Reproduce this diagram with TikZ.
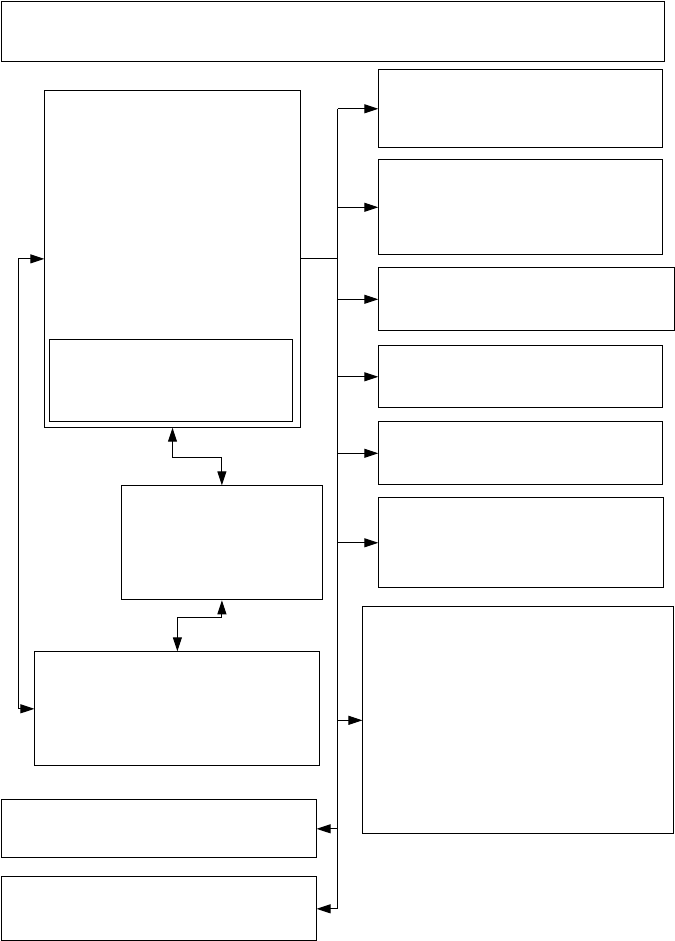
\documentclass[tikz,border=0pt]{standalone}
\usepackage{amsmath}
\usepackage{tikz}
\usetikzlibrary{arrows.meta}

\begin{document}
\begin{tikzpicture}[x=1pt,y=-1pt,line width=1pt,
  >={Triangle[length=14pt,width=9pt]},
  box/.style={draw,line width=1pt,anchor=north west,inner sep=0pt}]
\useasboundingbox (0,0) rectangle (674,941);

\node[box,minimum width=662.5pt,minimum height=60.6pt] (top) at (1.3,0.7) {};

\node[box,minimum width=255.4pt,minimum height=336.7pt] (a) at (44.3,90) {};
\node[box,minimum width=242.1pt,minimum height=81.4pt] (inner) at (49.4,339.3) {};
\node[box,minimum width=200.4pt,minimum height=114pt] (m) at (121.2,485.3) {};
\node[box,minimum width=285pt,minimum height=114pt] (b) at (34.4,651.3) {};
\node[box,minimum width=315.1pt,minimum height=58pt] (l1) at (0.5,799.3) {};
\node[box,minimum width=315.1pt,minimum height=64pt] (l2) at (0.5,876.3) {};

\node[box,minimum width=283.3pt,minimum height=78pt] (r1) at (378.3,69.3) {};
\node[box,minimum width=283.3pt,minimum height=95pt] (r2) at (378.3,159.3) {};
\node[box,minimum width=295.4pt,minimum height=63pt] (r3) at (378.3,267.3) {};
\node[box,minimum width=283.3pt,minimum height=62pt] (r4) at (378.3,345.3) {};
\node[box,minimum width=283.3pt,minimum height=63pt] (r5) at (378.3,421.3) {};
\node[box,minimum width=284.2pt,minimum height=90pt] (r6) at (378.3,497.3) {};
\node[box,minimum width=310.4pt,minimum height=227pt] (r7) at (362.4,606.3) {};

\coordinate (bus) at (337.5,0);
\coordinate (fb) at (18.5,0);

% bus on the right
\draw (a.east) -- (bus |- a.east);
\draw (bus |- r1.west) -- (bus |- l2.east);
\foreach \n in {r1,r2,r3,r4,r5,r6,r7}
  \draw[->] (bus |- \n.west) -- (\n.west);
\foreach \n in {l1,l2}
  \draw[->] (bus |- \n.east) -- (\n.east);

% feedback on the left
\draw[<->] (a.west) -- (fb |- a.west) -- (fb |- b.west) -- (b.west);

\draw[<->] (a.south) -- ++(0,30) -| (m.north);
\draw[<->] (m.south) -- ++(0,17) -| (b.north);

\end{tikzpicture}
\end{document}
